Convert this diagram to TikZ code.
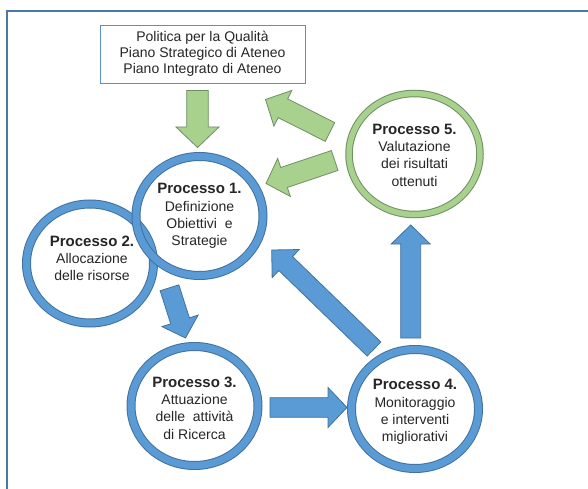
\documentclass[tikz,border=0pt]{standalone}
\usepackage{fontspec}
\setmainfont{Liberation Sans}
\usetikzlibrary{calc}

\definecolor{ringblue}{HTML}{5B9BD5}
\definecolor{edgeblue}{HTML}{41719C}
\definecolor{ringgreen}{HTML}{A9D18E}
\definecolor{edgegreen}{HTML}{6E8F63}
\definecolor{framecol}{HTML}{4A78A8}
\definecolor{boxedge}{HTML}{5B8FC7}
\definecolor{txt}{HTML}{262626}

% block arrow from #1 to the tip #2: shaft half width #3, head half width #4,
% head length #5, drawing style #6
\newcommand\blockarrow[6]{%
  \coordinate (ba-b) at ($(#2)!#5!(#1)$);
  \draw[#6] ($(#1)!#3!90:(#2)$) -- ($(ba-b)!#3!-90:(#1)$) -- ($(ba-b)!#4!-90:(#1)$)
    -- (#2) -- ($(ba-b)!#4!90:(#1)$) -- ($(ba-b)!#3!90:(#1)$) -- ($(#1)!#3!-90:(#2)$) -- cycle;}

\tikzset{
  proc/.style={align=center, text=txt, font=\fontsize{14}{17.3}\selectfont, inner sep=0pt},
  head/.style={font=\fontsize{15}{17.3}\selectfont\bfseries},
  bluefill/.style={fill=ringblue, draw=edgeblue, line width=0.8pt, line join=miter},
  greenfill/.style={fill=ringgreen, draw=edgegreen, line width=0.8pt, line join=miter},
}

% ring with a darker rim
\newcommand\ringshape[3]{% centre, rim colour, body colour
  \draw[#2, line width=9pt] (#1) ellipse [x radius=63.5, y radius=59.5];
  \draw[#3, line width=7pt] (#1) ellipse [x radius=63.5, y radius=59.5];}
\newcommand\greenring[1]{%
  \draw[edgegreen, line width=7.5pt] (#1) ellipse [x radius=65.5, y radius=60.5];
  \draw[ringgreen, line width=5.5pt] (#1) ellipse [x radius=65.5, y radius=60.5];}

\begin{document}
\begin{tikzpicture}[x=1pt, y=-1pt]
\useasboundingbox (0,0) rectangle (588,489);
\fill[white] (0,0) rectangle (588,489);

% frame
\draw[framecol, line width=1.5pt] (7,489) -- (7,11) -- (588,11);

% centres of the five processes
\coordinate (c1) at (199.5,216);
\coordinate (c2) at (90,263.5);
\coordinate (c3) at (194.5,406);
\coordinate (c4) at (415,409);
\coordinate (c5) at (414.5,154);

% source documents
\node[draw=boxedge, line width=0.8pt, minimum width=205pt, minimum height=58pt,
      align=center, text=txt, font=\fontsize{14}{16}\selectfont] (qual) at (202.5,54)
  {Politica per la Qualità\\Piano Strategico di Ateneo\\Piano Integrato di Ateneo};

% rings
\ringshape{c2}{edgeblue}{ringblue}
\ringshape{c1}{edgeblue}{ringblue}
\ringshape{c3}{edgeblue}{ringblue}
\ringshape{c4}{edgeblue}{ringblue}
\greenring{c5}

% labels
\node[proc] (p1) at (c1) {{\fontsize{15}{17.3}\selectfont\bfseries Processo 1.}\\Definizione\\Obiettivi~ e\\Strategie};
\node[proc] (p2) at ($(c2)+(2,-5)$) {{\fontsize{15}{17.3}\selectfont\bfseries Processo 2.}\\Allocazione\\delle risorse};
\node[proc] (p3) at ($(c3)+(0,2)$) {{\fontsize{15}{17.3}\selectfont\bfseries Processo 3.}\\Attuazione\\delle~ attività\\di Ricerca};
\node[proc] (p4) at ($(c4)+(0,3)$) {{\fontsize{15}{17.3}\selectfont\bfseries Processo 4.}\\Monitoraggio\\e interventi\\migliorativi};
\node[proc] (p5) at ($(c5)+(0,1)$) {{\fontsize{15}{17.3}\selectfont\bfseries Processo 5.}\\Valutazione\\dei risultati\\ottenuti};

% arrow ends
\coordinate (g1s) at (197.5,90.5);  \coordinate (g1t) at (197.5,147.5);
\coordinate (g2s) at (330,132);     \coordinate (g2t) at (265.5,99.5);
\coordinate (g3s) at (334.7,160.5); \coordinate (g3t) at (266,183.5);
\coordinate (b1s) at (169.5,287.8); \coordinate (b1t) at (185.5,338);
\coordinate (b2s) at (270,407.5);   \coordinate (b2t) at (347,407.5);
\coordinate (b3s) at (374,349);     \coordinate (b3t) at (271.7,250);
\coordinate (b4s) at (410.7,338);   \coordinate (b4t) at (410.7,225);

% green arrows
\blockarrow{g1s}{g1t}{10.8pt}{21.5pt}{20.5pt}{greenfill}
\blockarrow{g2s}{g2t}{10.5pt}{20pt}{19.5pt}{greenfill}
\blockarrow{g3s}{g3t}{10.5pt}{20pt}{19pt}{greenfill}

% blue arrows
\blockarrow{b1s}{b1t}{9.8pt}{19pt}{18pt}{bluefill}
\blockarrow{b2s}{b2t}{9.8pt}{20pt}{19pt}{bluefill}
\blockarrow{b3s}{b3t}{9.8pt}{19.5pt}{19.5pt}{bluefill}
\blockarrow{b4s}{b4t}{10pt}{19.5pt}{19pt}{bluefill}
\end{tikzpicture}
\end{document}
